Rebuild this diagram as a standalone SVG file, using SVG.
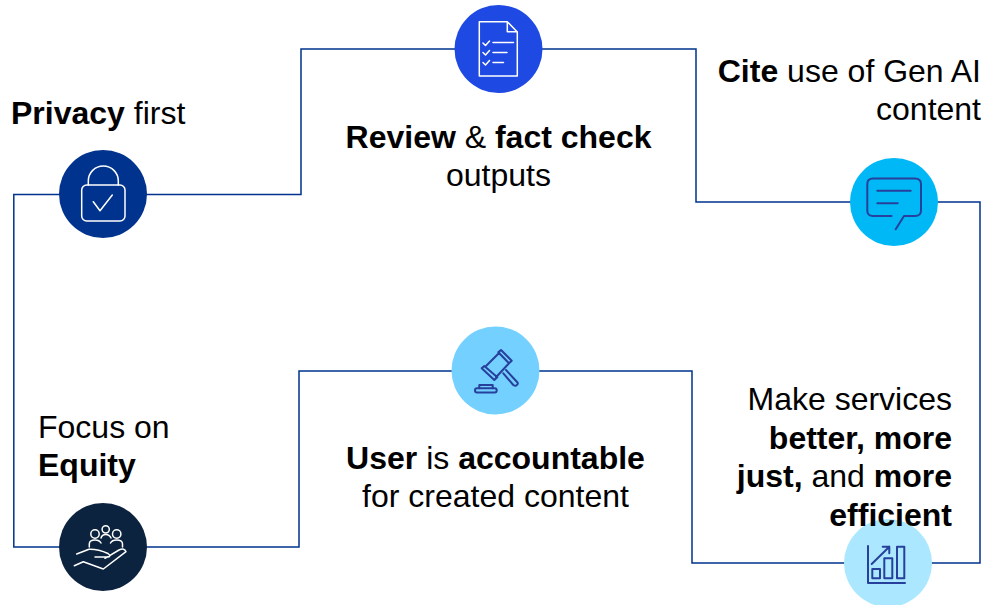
<svg xmlns="http://www.w3.org/2000/svg" width="987" height="605" viewBox="0 0 987 605">
<style>
text{font-family:"Liberation Sans",Arial,sans-serif;font-size:32px;fill:#000}
.b{font-weight:700}
.m{text-anchor:middle}
.e{text-anchor:end}
.w{fill:none;stroke:#fff;stroke-width:1.5;stroke-linecap:round;stroke-linejoin:round}
.d{fill:none;stroke:#27409c;stroke-width:2;stroke-linecap:round;stroke-linejoin:round}
</style>
<rect width="987" height="605" fill="#fff"/>
<g id="connectors"><path d="M103 194.500H301V49H696V202H980V563H692V371H299V547H13.800V194.500Z" fill="none" stroke="#00338d" stroke-width="1.5"/></g>
<g id="privacy">
<text x="11" y="124"><tspan class="b">Privacy</tspan> first</text>
<circle cx="103" cy="194" r="44" fill="#00338d"/>
<path class="w" d="M88.300 185V181A15 15 0 0 1 118.300 181V185"/>
<rect class="w" x="81.700" y="185" width="43.300" height="36" rx="5"/>
<path class="w" d="M93.300 201.700L100 210.700L112.300 195"/>
</g>
<g id="review">
<text class="m" x="498.500" y="148"><tspan class="b">Review</tspan> &amp; <tspan class="b">fact check</tspan></text>
<text class="m" x="498.500" y="186">outputs</text>
<circle cx="498.500" cy="49" r="44" fill="#1e49e2"/>
<path class="w" d="M507.300 21.700H479.300V76H517.300V32ZM507.300 21.700V31.700H517.300"/>
<path class="w" d="M483 43L485.500 45.500L489.500 41M483 52.500L485.500 55L489.500 50.500M483 62.500L485.500 65L489.500 60.500M493 42.500H513.500M493 52.500H507M493 62.500H503.500"/>
</g>
<g id="cite">
<text class="e" x="981" y="82"><tspan class="b">Cite</tspan> use of Gen AI</text>
<text class="e" x="981" y="120">content</text>
<circle cx="894" cy="202" r="44" fill="#00b8f5"/>
<path class="d" d="M891.500 216H873Q867.300 216 867.300 210.500V184Q867.300 178.500 873 178.500H915Q921 178.500 921 184V210.500Q921 216 915 216H904L895.700 229.300"/>
<path class="d" d="M877.300 190.700H910.700M877.300 203.300H897.700"/>
</g>
<g id="accountable">
<text class="m" x="495.500" y="469"><tspan class="b">User</tspan> is <tspan class="b">accountable</tspan></text>
<text class="m" x="495.500" y="507">for created content</text>
<circle cx="495.500" cy="370.500" r="44" fill="#73d0ff"/>
<path class="d" d="M498.300 352.300L501 350L511.700 360.700L509 363.300ZM481.700 368.300L484.300 366L497.300 377.300L494.300 380ZM485.300 366.700L499.300 352.700M509 363.300L496 377.300"/>
<path class="d" d="M503.300 373.300L513.300 385Q515.500 386.500 517 384.800Q518.500 383.500 517.300 382.300L506 370"/>
<path class="d" d="M479.300 388.300V385H492.700V388.300"/>
<rect class="d" x="475" y="388.300" width="21.700" height="4.200" rx="2"/>
</g>
<g id="equity">
<text x="38" y="438">Focus on</text>
<text class="b" x="38" y="476">Equity</text>
<circle cx="103" cy="547" r="44" fill="#0c233f"/>
<circle class="w" cx="95" cy="534" r="4.200"/>
<circle class="w" cx="105.700" cy="529.300" r="3.600"/>
<circle class="w" cx="116.700" cy="534" r="4.200"/>
<path class="w" d="M89.300 547V544Q89.300 540 95 540Q99.500 540 101 543M101 538Q102 534.500 105.700 534.500Q109.500 534.500 111 538M110.500 543Q112 540 116.700 540Q122.500 540 122.500 544V547"/>
<path class="w" d="M76.700 554L89 549.300Q98 549 108 553.500Q111.500 556.500 108 557H95M105 558.300L119 550Q124.500 547.500 126 551.700L103.300 569L83.300 561.700L74.300 565.700"/>
</g>
<g id="services">
<circle cx="888" cy="563" r="44" fill="#abe8ff"/>
<text class="e" x="952" y="410">Make services</text>
<text class="e b" x="952" y="449">better, more</text>
<text class="e" x="952" y="487"><tspan class="b">just,</tspan> and <tspan class="b">more</tspan></text>
<text class="e b" x="952" y="526">efficient</text>
<path class="d" d="M868 546V583H905"/>
<rect class="d" x="872.300" y="569" width="7.700" height="9.300"/>
<rect class="d" x="884.300" y="558.300" width="8" height="20"/>
<rect class="d" x="897" y="546.700" width="7.300" height="31.600"/>
<path class="d" d="M871.700 564L889.300 546.700M882.700 546.700H889.300V553.300"/>
</g>
</svg>
